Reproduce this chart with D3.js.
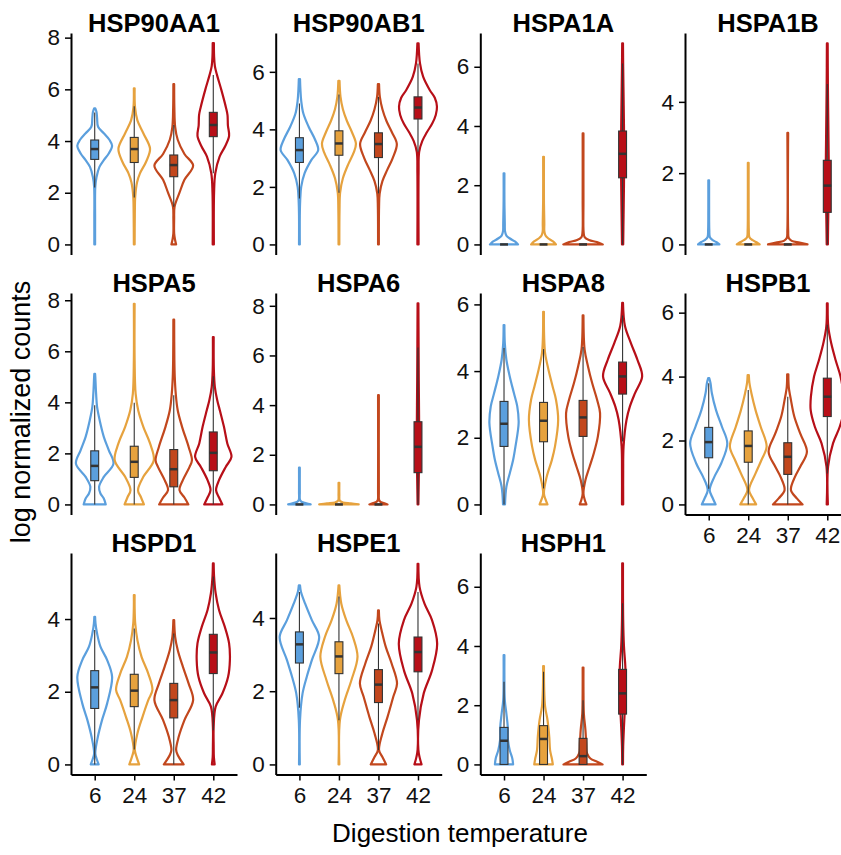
<!DOCTYPE html>
<html>
<head>
<meta charset="utf-8">
<script src="https://cdn.jsdelivr.net/npm/d3@7"></script>
<style>
  body { margin: 0; background: #fff; }
  svg { display: block; }
  text { font-family: "Liberation Sans", Arial, Helvetica, sans-serif; }
</style>
</head>
<body>
<svg id="chart" width="841" height="855"></svg>
<script>
// Genes (facets), temperatures (x categories) and colours
const genes = ['HSP90AA1', 'HSP90AB1', 'HSPA1A', 'HSPA1B', 'HSPA5', 'HSPA6',
               'HSPA8', 'HSPB1', 'HSPD1', 'HSPE1', 'HSPH1'];
const temps = ['6', '24', '37', '42'];
const tempColors = ['#5b9fdd', '#e6a23e', '#c2471d', '#b70f18'];

// data max per facet (free y scales) and y tick labels
const yMax = [7.79, 7.0, 6.8, 5.65, 7.89, 8.11, 6.04, 6.3, 5.54, 5.5, 6.8];
const yTicks = [
  [0, 2, 4, 6, 8], [0, 2, 4, 6], [0, 2, 4, 6], [0, 2, 4],
  [0, 2, 4, 6, 8], [0, 2, 4, 6, 8], [0, 2, 4, 6], [0, 2, 4, 6],
  [0, 2, 4], [0, 2, 4], [0, 2, 4, 6]
];

// box stats per gene, per temperature: [lower whisker, q1, median, q3, upper whisker]
const boxStats = [
  [[2.2, 3.29, 3.69, 4.04, 5.1], [1.82, 3.17, 3.69, 4.14, 5.35], [1.46, 2.62, 3.07, 3.46, 4.62], [2.75, 4.17, 4.62, 5.11, 6.55]],
  [[1.6, 2.85, 3.28, 3.71, 4.9], [1.8, 3.1, 3.51, 3.95, 5.21], [1.77, 3.02, 3.49, 3.88, 5.13], [3.22, 4.36, 4.76, 5.13, 6.29]],
  [[0, 0, 0, 0, 0], [0, 0, 0, 0, 0], [0, 0, 0, 0, 0], [0, 2.25, 3.06, 3.83, 6.11]],
  [[0, 0, 0, 0, 0], [0, 0, 0, 0, 0], [0, 0, 0, 0, 0], [0, 0.9, 1.65, 2.36, 4.5]],
  [[0, 0.93, 1.51, 2.1, 3.89], [0, 1.06, 1.67, 2.28, 3.98], [0, 0.69, 1.38, 2.15, 4.28], [0, 1.32, 2.02, 2.84, 5.02]],
  [[0, 0, 0, 0, 0], [0, 0, 0, 0, 0], [0, 0, 0, 0, 0], [0, 1.28, 2.32, 3.33, 6.32]],
  [[0, 1.74, 2.42, 3.09, 4.69], [0.48, 1.88, 2.51, 3.06, 4.66], [0.53, 2.04, 2.61, 3.12, 4.72], [1.89, 3.31, 3.84, 4.27, 5.67]],
  [[0.49, 1.46, 1.95, 2.41, 3.79], [0, 1.32, 1.83, 2.3, 3.58], [0, 0.94, 1.49, 1.93, 3.37], [0.97, 2.75, 3.37, 3.95, 5.62]],
  [[0, 1.54, 2.12, 2.58, 3.7], [0.41, 1.59, 2.03, 2.48, 3.74], [0, 1.28, 1.77, 2.23, 3.6], [0.94, 2.5, 3.08, 3.58, 5.17]],
  [[1.55, 2.77, 3.28, 3.62, 4.71], [1.21, 2.48, 2.95, 3.35, 4.59], [0.39, 1.69, 2.18, 2.59, 3.85], [1.21, 2.53, 3.07, 3.48, 4.71]],
  [[0, 0, 0.8, 1.25, 2.79], [0, 0, 0.86, 1.31, 3.13], [0, 0, 0.28, 0.88, 2.17], [0, 1.7, 2.4, 3.21, 5.44]]
];

// violin outlines: [value, full width as a fraction of the category step]
const vHSP90AA1 = [
  [[0, 0.02], [1, 0.02], [2.23, 0.03], [2.6, 0.09], [3.0, 0.24], [3.26, 0.46], [3.52, 0.71], [3.82, 0.88], [4.04, 0.75], [4.3, 0.46], [4.55, 0.17], [4.9, 0.12], [5.12, 0.09], [5.26, 0.03]],
  [[0, 0.02], [1.2, 0.03], [1.85, 0.05], [2.4, 0.14], [2.75, 0.29], [3.2, 0.6], [3.7, 0.8], [4.3, 0.46], [4.8, 0.16], [5.3, 0.04], [6.04, 0.02]],
  [[0, 0.12], [0.2, 0.06], [0.43, 0.02], [1.0, 0.02], [1.46, 0.04], [2.0, 0.29], [2.5, 0.54], [3.05, 0.98], [3.5, 0.54], [4.05, 0.2], [4.55, 0.07], [5.3, 0.03], [6.2, 0.02]],
  [[0, 0.03], [2.0, 0.04], [2.75, 0.1], [3.4, 0.32], [3.8, 0.6], [4.2, 0.8], [4.6, 0.74], [5.0, 0.72], [5.3, 0.64], [6.0, 0.4], [6.55, 0.19], [6.9, 0.08], [7.3, 0.04], [7.79, 0.03]]
];
const vHSP90AB1 = [
  [[0, 0.02], [1.0, 0.02], [1.54, 0.04], [2.0, 0.09], [2.47, 0.26], [2.93, 0.6], [3.28, 0.95], [3.63, 0.8], [4.1, 0.46], [4.55, 0.2], [5.0, 0.09], [5.4, 0.05], [5.75, 0.03]],
  [[0, 0.02], [1.2, 0.03], [1.8, 0.06], [2.3, 0.2], [2.8, 0.48], [3.2, 0.75], [3.5, 0.86], [3.9, 0.66], [4.3, 0.4], [4.7, 0.2], [5.13, 0.08], [5.69, 0.03]],
  [[0, 0.02], [1.3, 0.03], [1.77, 0.06], [2.2, 0.2], [2.6, 0.45], [3.0, 0.72], [3.49, 0.93], [3.9, 0.68], [4.3, 0.4], [4.7, 0.2], [5.13, 0.07], [5.57, 0.03]],
  [[0, 0.03], [2.5, 0.03], [3.22, 0.06], [3.6, 0.22], [3.9, 0.45], [4.2, 0.72], [4.5, 0.9], [4.79, 0.96], [5.1, 0.85], [5.36, 0.6], [5.83, 0.26], [6.3, 0.1], [6.99, 0.03]]
];
const vHSPA1A = [
  [[0, 0.71], [0.1, 0.55], [0.2, 0.3], [0.3, 0.12], [0.45, 0.05], [0.7, 0.04], [1.5, 0.02], [2.4, 0.02]],
  [[0, 0.63], [0.1, 0.48], [0.2, 0.25], [0.3, 0.1], [0.45, 0.04], [0.7, 0.04], [1.5, 0.02], [2.96, 0.02]],
  [[0, 1.0], [0.08, 0.7], [0.15, 0.3], [0.25, 0.08], [0.4, 0.03], [1.5, 0.02], [3.75, 0.02]],
  [[0, 0.03], [1.0, 0.05], [2.0, 0.07], [3.0, 0.08], [4.0, 0.07], [5.0, 0.05], [6.0, 0.03], [6.79, 0.02]]
];
const vHSPA1B = [
  [[0, 0.54], [0.06, 0.4], [0.12, 0.2], [0.2, 0.06], [0.4, 0.03], [1.0, 0.02], [1.8, 0.02]],
  [[0, 0.58], [0.06, 0.42], [0.12, 0.22], [0.2, 0.06], [0.4, 0.03], [1.0, 0.02], [2.29, 0.02]],
  [[0, 1.0], [0.05, 0.6], [0.1, 0.2], [0.18, 0.05], [0.4, 0.02], [3.13, 0.02]],
  [[0, 0.03], [0.8, 0.05], [1.6, 0.08], [2.5, 0.07], [3.5, 0.05], [4.5, 0.03], [5.64, 0.02]]
];
const vHSPA5 = [
  [[0, 0.56], [0.23, 0.46], [0.43, 0.29], [0.69, 0.22], [1.08, 0.46], [1.6, 0.95], [2.13, 0.71], [2.65, 0.46], [3.3, 0.25], [3.82, 0.12], [4.34, 0.07], [5.0, 0.03], [5.12, 0.02]],
  [[0, 0.49], [0.3, 0.33], [0.56, 0.19], [1.08, 0.46], [1.73, 0.99], [2.39, 0.8], [3.04, 0.46], [3.69, 0.2], [4.34, 0.07], [5.65, 0.02], [7.86, 0.02]],
  [[0, 0.74], [0.27, 0.54], [0.56, 0.29], [0.95, 0.46], [1.47, 0.8], [1.73, 0.92], [2.26, 0.75], [3.04, 0.42], [3.69, 0.2], [4.34, 0.1], [5.0, 0.05], [5.7, 0.03], [7.24, 0.02]],
  [[0, 0.46], [0.27, 0.29], [0.56, 0.14], [0.95, 0.29], [1.47, 0.63], [1.86, 0.92], [2.39, 0.71], [3.04, 0.54], [3.69, 0.33], [4.08, 0.2], [4.6, 0.08], [5.25, 0.03], [6.56, 0.02]]
];
const vHSPA6 = [
  [[0, 0.57], [0.05, 0.35], [0.1, 0.12], [0.18, 0.03], [0.5, 0.02], [1.48, 0.02]],
  [[0, 1.0], [0.04, 0.6], [0.08, 0.2], [0.15, 0.04], [0.4, 0.02], [0.87, 0.02]],
  [[0, 0.46], [0.05, 0.3], [0.1, 0.1], [0.18, 0.03], [0.5, 0.02], [4.4, 0.02]],
  [[0, 0.02], [1.0, 0.04], [2.0, 0.06], [3.0, 0.06], [4.0, 0.05], [5.0, 0.04], [6.5, 0.03], [8.1, 0.02]]
];
const vHSPA8 = [
  [[0, 0.05], [0.53, 0.12], [0.93, 0.29], [1.33, 0.46], [1.74, 0.58], [2.44, 0.74], [2.94, 0.67], [3.34, 0.5], [3.84, 0.29], [4.34, 0.12], [4.84, 0.04], [5.38, 0.02]],
  [[0, 0.2], [0.15, 0.1], [0.33, 0.02], [0.83, 0.16], [1.33, 0.42], [1.74, 0.58], [2.54, 0.74], [3.14, 0.63], [3.54, 0.46], [4.04, 0.25], [4.54, 0.08], [5.05, 0.03], [5.78, 0.02]],
  [[0, 0.17], [0.15, 0.08], [0.33, 0.02], [0.73, 0.12], [1.13, 0.33], [1.53, 0.54], [2.04, 0.75], [2.74, 0.86], [3.14, 0.71], [3.64, 0.46], [4.14, 0.25], [4.64, 0.08], [5.67, 0.02]],
  [[0, 0.03], [1.0, 0.03], [1.74, 0.05], [2.54, 0.2], [2.94, 0.37], [3.34, 0.63], [3.84, 0.99], [4.34, 0.75], [4.84, 0.42], [5.35, 0.12], [6.05, 0.02]]
];
const vHSPB1 = [
  [[0, 0.35], [0.2, 0.2], [0.45, 0.05], [0.87, 0.29], [1.28, 0.63], [1.91, 0.94], [2.43, 0.67], [2.95, 0.37], [3.48, 0.16], [3.8, 0.09], [3.95, 0.03]],
  [[0, 0.4], [0.2, 0.22], [0.45, 0.04], [0.97, 0.37], [1.39, 0.67], [1.81, 0.93], [2.43, 0.63], [2.95, 0.37], [3.48, 0.16], [3.8, 0.06], [4.05, 0.03]],
  [[0, 0.75], [0.19, 0.46], [0.45, 0.16], [0.87, 0.37], [1.18, 0.63], [1.65, 0.97], [2.22, 0.63], [2.75, 0.33], [3.27, 0.16], [3.68, 0.05], [4.07, 0.03]],
  [[0, 0.03], [1.18, 0.04], [1.91, 0.29], [2.43, 0.63], [2.95, 0.84], [3.37, 0.83], [4.0, 0.67], [4.52, 0.42], [5.04, 0.2], [5.56, 0.05], [6.29, 0.02]]
];
const vHSPD1 = [
  [[0, 0.2], [0.15, 0.1], [0.3, 0.03], [0.76, 0.16], [1.22, 0.37], [1.68, 0.63], [2.41, 0.88], [2.87, 0.63], [3.24, 0.29], [3.6, 0.12], [3.88, 0.04], [4.06, 0.02]],
  [[0, 0.25], [0.2, 0.12], [0.4, 0.03], [0.85, 0.16], [1.31, 0.42], [1.77, 0.71], [2.05, 0.92], [2.5, 0.71], [2.96, 0.37], [3.42, 0.16], [3.88, 0.05], [4.34, 0.02], [4.66, 0.02]],
  [[0, 0.5], [0.26, 0.2], [0.4, 0.12], [0.76, 0.25], [1.22, 0.54], [1.77, 0.98], [2.23, 0.75], [2.69, 0.46], [3.15, 0.2], [3.51, 0.07], [3.97, 0.02]],
  [[0, 0.07], [0.2, 0.03], [0.5, 0.02], [1.04, 0.02], [1.59, 0.12], [1.95, 0.46], [2.41, 0.75], [2.87, 0.84], [3.33, 0.8], [3.79, 0.58], [4.25, 0.29], [4.71, 0.12], [5.17, 0.04], [5.53, 0.02]]
];
const vHSPE1 = [
  [[0, 0.02], [1.21, 0.03], [1.94, 0.16], [2.39, 0.37], [2.85, 0.63], [3.48, 1.0], [3.94, 0.63], [4.39, 0.29], [4.71, 0.08], [4.89, 0.03]],
  [[0, 0.02], [1.21, 0.05], [1.75, 0.29], [2.3, 0.63], [2.94, 0.94], [3.48, 0.71], [3.94, 0.37], [4.39, 0.12], [4.89, 0.02]],
  [[0, 0.39], [0.2, 0.2], [0.39, 0.03], [0.85, 0.2], [1.3, 0.46], [1.85, 0.75], [2.21, 0.94], [2.75, 0.67], [3.21, 0.37], [3.66, 0.16], [3.94, 0.05], [4.21, 0.02]],
  [[0, 0.18], [0.2, 0.08], [0.4, 0.02], [1.21, 0.05], [1.94, 0.29], [2.57, 0.71], [3.3, 0.97], [3.94, 0.71], [4.39, 0.33], [4.85, 0.08], [5.48, 0.02]]
];
const vHSPH1 = [
  [[0, 0.46], [0.2, 0.42], [0.48, 0.29], [0.82, 0.2], [1.27, 0.19], [1.72, 0.12], [2.17, 0.04], [2.85, 0.02], [3.69, 0.02]],
  [[0, 0.47], [0.2, 0.42], [0.48, 0.33], [0.93, 0.29], [1.5, 0.2], [1.95, 0.08], [2.62, 0.03], [3.32, 0.02]],
  [[0, 0.99], [0.09, 0.71], [0.2, 0.37], [0.37, 0.2], [0.71, 0.16], [1.16, 0.12], [1.72, 0.04], [2.62, 0.02], [3.27, 0.02]],
  [[0, 0.02], [0.6, 0.03], [1.27, 0.07], [1.95, 0.12], [2.62, 0.16], [3.3, 0.14], [3.98, 0.07], [4.88, 0.03], [6.79, 0.02]]
];
const violins = [vHSP90AA1, vHSP90AB1, vHSPA1A, vHSPA1B, vHSPA5, vHSPA6,
                 vHSPA8, vHSPB1, vHSPD1, vHSPE1, vHSPH1];

// layout
const colX = [71, 275.7, 480.3, 685];
const rowY = [33, 293, 553];
const pw = 166, ph = 221.5;
const xAxisGenes = ['HSPB1', 'HSPD1', 'HSPE1', 'HSPH1'];
const boxW = 0.2;

const svg = d3.select('#chart');

genes.forEach((gene, i) => {
  const col = i % 4, row = Math.floor(i / 4);
  const g = svg.append('g')
    .attr('transform', `translate(${colX[col]},${rowY[row]})`);

  const x = d3.scalePoint().domain(temps).range([0, pw]).padding(0.6);
  const step = x.step();
  const R = yMax[i];
  const y = d3.scaleLinear().domain([-0.05 * R, 1.05 * R]).range([ph, 0]);

  // violins
  violins[i].forEach((prof, t) => {
    const cx = x(temps[t]);
    const area = d3.area()
      .curve(d3.curveCatmullRom)
      .y(d => y(d[0]))
      .x0(d => cx - d[1] * step / 2)
      .x1(d => cx + d[1] * step / 2);
    g.append('path')
      .attr('d', area(prof))
      .attr('fill', 'none')
      .attr('stroke', tempColors[t])
      .attr('stroke-width', 2.2)
      .attr('stroke-linejoin', 'round');
  });

  // boxplots
  boxStats[i].forEach((b, t) => {
    const cx = x(temps[t]);
    const hw = boxW * step / 2;
    g.append('line')
      .attr('x1', cx).attr('x2', cx)
      .attr('y1', y(b[0])).attr('y2', y(b[4]))
      .attr('stroke', '#333').attr('stroke-width', 1.1);
    g.append('rect')
      .attr('x', cx - hw).attr('width', hw * 2)
      .attr('y', y(b[3])).attr('height', y(b[1]) - y(b[3]))
      .attr('fill', tempColors[t])
      .attr('stroke', '#333').attr('stroke-width', 1.1);
    g.append('line')
      .attr('x1', cx - hw).attr('x2', cx + hw)
      .attr('y1', y(b[2])).attr('y2', y(b[2]))
      .attr('stroke', '#333').attr('stroke-width', 2.5);
  });

  // y axis
  const ya = g.append('g')
    .call(d3.axisLeft(y).tickValues(yTicks[i]).tickFormat(d3.format('d'))
      .tickSize(6).tickSizeOuter(0).tickPadding(5));
  ya.select('.domain').attr('stroke', '#000').attr('stroke-width', 2);
  ya.selectAll('.tick line').attr('stroke', '#000').attr('stroke-width', 1.5);
  ya.selectAll('.tick text').attr('fill', '#111').style('font-size', '22.5px');

  // x axis only on bottom-most panels
  if (xAxisGenes.includes(gene)) {
    const xa = g.append('g')
      .attr('transform', `translate(0,${ph})`)
      .call(d3.axisBottom(x).tickSize(6).tickSizeOuter(0).tickPadding(7));
    xa.select('.domain').attr('stroke', '#000').attr('stroke-width', 2);
    xa.selectAll('.tick line').attr('stroke', '#000').attr('stroke-width', 1.5);
    xa.selectAll('.tick text').attr('fill', '#111').style('font-size', '22.5px');
  }

  // facet title
  g.append('text')
    .attr('x', pw / 2).attr('y', -1.5)
    .attr('text-anchor', 'middle')
    .style('font-size', '25.5px').style('font-weight', 'bold')
    .text(gene);
});

// axis titles
svg.append('text')
  .attr('x', 460).attr('y', 842)
  .attr('text-anchor', 'middle')
  .style('font-size', '26px')
  .text('Digestion temperature');

svg.append('text')
  .attr('transform', 'translate(30,412) rotate(-90)')
  .attr('text-anchor', 'middle')
  .style('font-size', '27px')
  .text('log normalized counts');
</script>
</body>
</html>
